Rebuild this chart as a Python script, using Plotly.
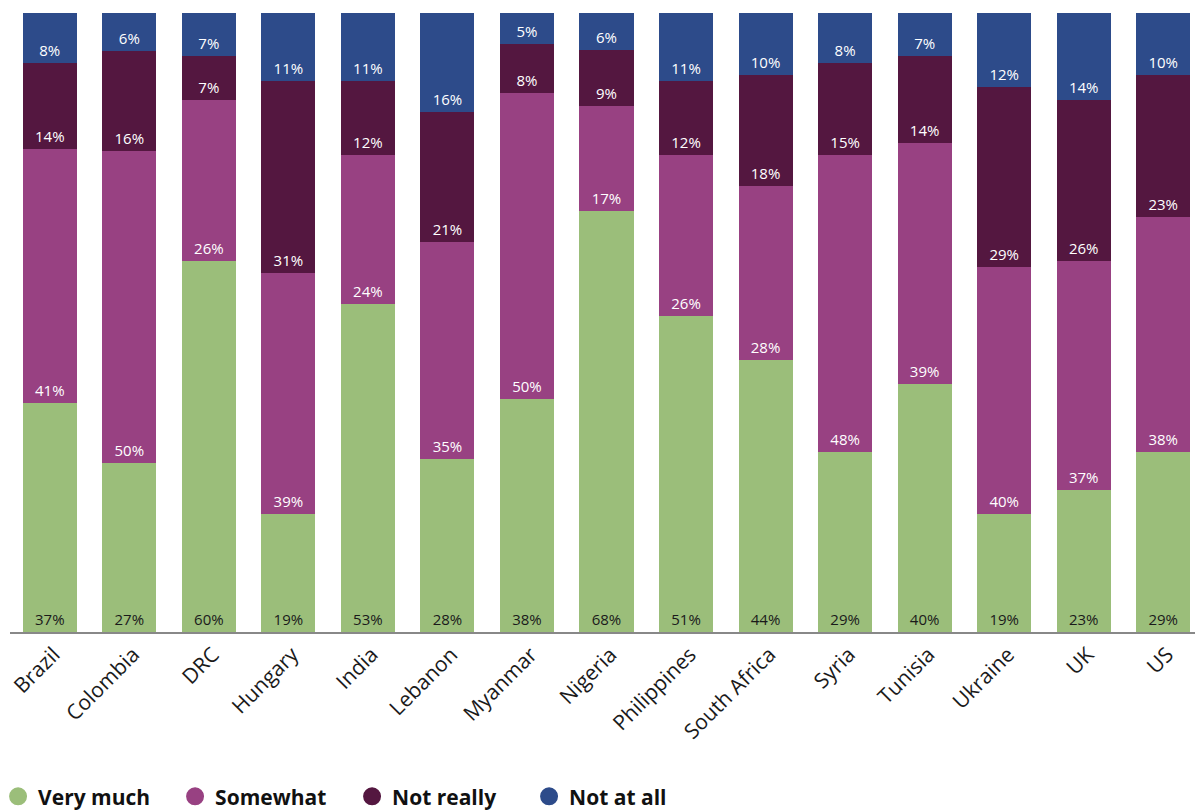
import plotly.graph_objects as go

countries = ["Brazil", "Colombia", "DRC", "Hungary", "India", "Lebanon", "Myanmar",
             "Nigeria", "Philippines", "South Africa", "Syria", "Tunisia", "Ukraine", "UK", "US"]
very_much = [37, 27, 60, 19, 53, 28, 38, 68, 51, 44, 29, 40, 19, 23, 29]
somewhat = [41, 50, 26, 39, 24, 35, 50, 17, 26, 28, 48, 39, 40, 37, 38]
not_really = [14, 16, 7, 31, 12, 21, 8, 9, 12, 18, 15, 14, 29, 26, 23]
not_at_all = [8, 6, 7, 11, 11, 16, 5, 6, 11, 10, 8, 7, 12, 14, 10]

series = [
    ("Very much", very_much, "#9BBE7A", "#1a1a1a"),
    ("Somewhat", somewhat, "#984182", "white"),
    ("Not really", not_really, "#541740", "white"),
    ("Not at all", not_at_all, "#2D4B8A", "white"),
]

fig = go.Figure()
for name, vals, color, tcolor in series:
    fig.add_trace(go.Bar(
        x=countries, y=vals, name=name, marker=dict(color=color, line=dict(width=0)),
        text=vals, texttemplate="%{text}%", textposition="inside",
        insidetextanchor="start", textangle=0, constraintext="none",
        textfont=dict(family="Open Sans", size=15, color=tcolor),
        showlegend=False, hoverinfo="skip",
    ))
for name, vals, color, tcolor in series:
    fig.add_trace(go.Scatter(
        x=[None], y=[None], mode="markers", name=name,
        marker=dict(symbol="circle", size=20, color=color, line=dict(color=color, width=2)),
        showlegend=True,
    ))

fig.update_layout(
    width=1195, height=804,
    margin=dict(l=2, r=0, t=5, b=180, autoexpand=False),
    barmode="stack", barnorm="percent", bargap=0.32,
    plot_bgcolor="white", paper_bgcolor="white",
    font=dict(family="Open Sans", color="#1a1a1a"),
    xaxis=dict(
        tickangle=-45, tickfont=dict(family="Open Sans", size=21, color="#1a1a1a"),
        ticklabelshift=4,
        showline=True, linecolor="#888888", linewidth=2, ticks="", showgrid=False,
        automargin=False,
    ),
    yaxis=dict(visible=False, range=[0, 100], showgrid=False, automargin=False),
    legend=dict(
        orientation="h", x=-0.010, xanchor="left", y=-0.266, yanchor="middle",
        traceorder="normal", entrywidth=132, entrywidthmode="pixels",
        font=dict(family="Open Sans", size=21, color="#111111", weight="bold"),
        itemsizing="trace",
    ),
)

fig.write_html("out.html")
